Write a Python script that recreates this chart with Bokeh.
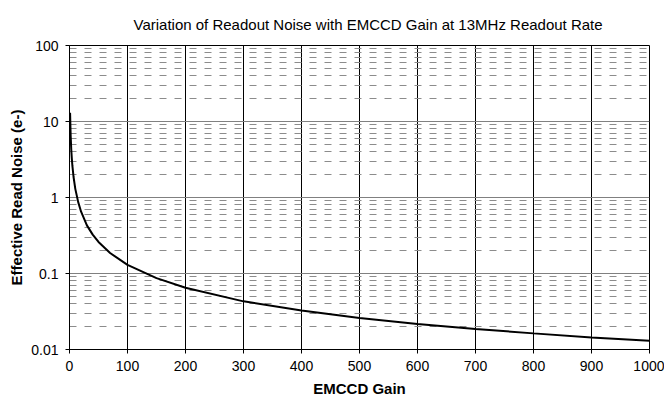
from bokeh.plotting import figure
from bokeh.models import FixedTicker, Grid, CustomJSTickFormatter
from bokeh.embed import file_html
from bokeh.resources import INLINE

gain = [1, 2, 3, 4, 5, 7, 10, 15, 20, 30, 40, 50, 70, 100, 150, 200, 300, 400, 500, 600, 700, 800, 900, 1000]
noise = [13, 6.5, 4.3, 3.25, 2.6, 1.86, 1.3, 0.87, 0.65, 0.43, 0.325, 0.26, 0.186, 0.13, 0.087, 0.065,
         0.043, 0.0325, 0.026, 0.0217, 0.0186, 0.0163, 0.0144, 0.013]

x_ticks = [0, 100, 200, 300, 400, 500, 600, 700, 800, 900, 1000]
y_major = [0.01, 0.1, 1, 10, 100]
y_minor = [m * d for d in [0.01, 0.1, 1, 10] for m in range(2, 10)]

FONT = "Liberation Sans"

p = figure(width=664, height=403, y_axis_type="log", x_range=(0, 1000), y_range=(0.01, 100),
           output_backend="svg", toolbar_location=None,
           min_border_left=69, min_border_right=15, min_border_top=45, min_border_bottom=54)

p.title.text = "Variation of Readout Noise with EMCCD Gain at 13MHz Readout Rate"
p.title.align = "left"
p.title.offset = 64
p.title.text_font = FONT
p.title.text_font_size = "15px"
p.title.text_font_style = "normal"
p.title.text_color = "black"
p.title.standoff = 26

p.outline_line_color = "black"
p.outline_line_width = 1
p.background_fill_color = "white"
p.border_fill_color = "white"

# grids
p.xgrid.ticker = FixedTicker(ticks=x_ticks)
p.xgrid.grid_line_color = "black"
p.xgrid.grid_line_width = 1
p.ygrid.ticker = FixedTicker(ticks=y_major)
p.ygrid.grid_line_color = "#808080"
p.ygrid.grid_line_width = 1
minor_grid = Grid(dimension=1, ticker=FixedTicker(ticks=y_minor),
                  grid_line_color="#8c8c8c", grid_line_dash="7 8", grid_line_width=1)
p.add_layout(minor_grid)

p.line(gain, noise, line_color="black", line_width=2)

# axes
p.xaxis.ticker = FixedTicker(ticks=x_ticks)
p.yaxis.ticker = FixedTicker(ticks=y_major)
p.yaxis.formatter = CustomJSTickFormatter(code="return tick.toString();")
for ax in (p.xaxis, p.yaxis):
    ax.axis_line_color = "black"
    ax.major_tick_line_color = "black"
    ax.major_tick_in = 0
    ax.major_tick_out = 4
    ax.minor_tick_line_color = None
    ax.major_label_text_font = FONT
    ax.major_label_text_font_size = "14px"
    ax.major_label_text_color = "black"
    ax.axis_label_text_font = FONT
    ax.axis_label_text_font_size = "15px"
    ax.axis_label_text_font_style = "bold"
    ax.axis_label_text_color = "black"

p.xaxis.axis_label = "EMCCD Gain"
p.yaxis.axis_label = "Effective Read Noise (e-)"
p.xaxis.major_label_standoff = 7
p.xaxis.axis_label_standoff = 6
p.yaxis.major_label_standoff = 7
p.yaxis.axis_label_standoff = 3

open("out.html", "w").write(file_html(p, INLINE))
